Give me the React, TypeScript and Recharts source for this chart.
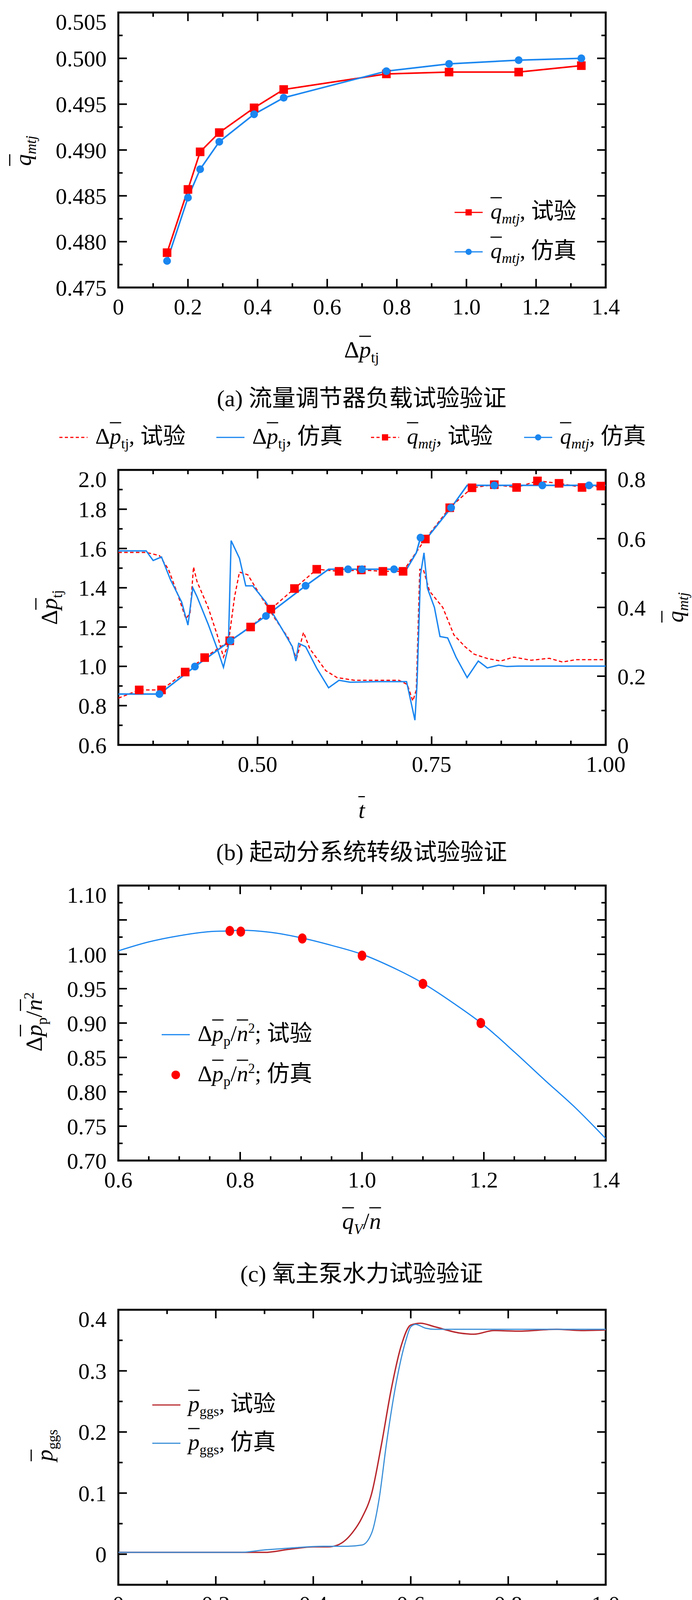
import React from 'react';
import { LineChart, Line, XAxis, YAxis, Scatter, ComposedChart, ReferenceArea, ReferenceLine } from 'recharts';

const FONT = '"Liberation Serif", "Noto Sans CJK SC", serif';
const RED = '#ff0000';
const BLUE = '#1a86f0';

// (a) flow regulator load test
const aX = [0.14, 0.2, 0.235, 0.29, 0.39, 0.475, 0.77, 0.95, 1.15, 1.33];
const aTest = [0.4788, 0.4857, 0.4898, 0.4919, 0.4946, 0.4966, 0.4983, 0.4985, 0.4985, 0.4992];
const aSim = [0.4779, 0.4848, 0.4879, 0.4909, 0.4939, 0.4957, 0.4986, 0.4994, 0.4998, 0.5];

// (b) start subsystem transition test
const bDpSimT = [0.3, 0.34, 0.35, 0.362, 0.375, 0.391, 0.4, 0.407, 0.413, 0.429, 0.442, 0.451, 0.458, 0.462, 0.474, 0.483, 0.493, 0.512, 0.531, 0.55, 0.555, 0.559, 0.569, 0.585, 0.602, 0.617, 0.633, 0.671, 0.714, 0.72, 0.726, 0.729, 0.734, 0.739, 0.744, 0.754, 0.762, 0.773, 0.785, 0.801, 0.817, 0.83, 0.846, 0.858, 0.874, 1.0];
const bDpSim = [1.588, 1.588, 1.539, 1.557, 1.44, 1.327, 1.21, 1.4, 1.355, 1.215, 1.09, 0.995, 1.1, 1.64, 1.55, 1.41, 1.41, 1.327, 1.215, 1.1, 1.027, 1.117, 1.1, 0.99, 0.891, 0.929, 0.919, 0.922, 0.922, 0.824, 0.726, 0.908, 1.466, 1.578, 1.397, 1.3, 1.152, 1.145, 1.047, 0.943, 1.027, 0.992, 1.006, 0.999, 1.001, 1.001];
const bDpTestT = [0.3, 0.34, 0.359, 0.372, 0.385, 0.397, 0.403, 0.408, 0.413, 0.429, 0.442, 0.451, 0.458, 0.467, 0.474, 0.486, 0.505, 0.525, 0.544, 0.556, 0.566, 0.575, 0.598, 0.614, 0.639, 0.703, 0.715, 0.723, 0.728, 0.733, 0.738, 0.747, 0.766, 0.782, 0.798, 0.811, 0.83, 0.849, 0.868, 0.893, 0.919, 0.938, 0.957, 1.0];
const bDpTest = [1.58, 1.58, 1.564, 1.494, 1.369, 1.243, 1.27, 1.506, 1.432, 1.3, 1.16, 1.047, 1.117, 1.355, 1.48, 1.466, 1.355, 1.243, 1.145, 1.04, 1.173, 1.09, 0.978, 0.943, 0.929, 0.929, 0.908, 0.824, 0.88, 1.494, 1.494, 1.383, 1.3, 1.16, 1.1, 1.062, 1.04, 1.027, 1.047, 1.031, 1.041, 1.022, 1.034, 1.034];
const bQSimT = [0.3, 0.359, 0.41, 0.461, 0.512, 0.569, 0.602, 0.63, 0.65, 0.696, 0.714, 0.728, 0.734, 0.739, 0.778, 0.801, 0.808, 0.84, 0.909, 0.976, 1.0];
const bQSim = [0.148, 0.148, 0.228, 0.303, 0.375, 0.463, 0.511, 0.511, 0.511, 0.511, 0.511, 0.559, 0.603, 0.591, 0.69, 0.755, 0.755, 0.755, 0.755, 0.755, 0.755];
const bQSimMark = [0, 1, 1, 1, 1, 1, 0, 1, 1, 1, 0, 0, 1, 0, 1, 0, 0, 1, 1, 1, 0];
const bQTestT = [0.3, 0.33, 0.362, 0.396, 0.424, 0.46, 0.49, 0.519, 0.553, 0.585, 0.617, 0.649, 0.68, 0.709, 0.741, 0.776, 0.808, 0.84, 0.872, 0.902, 0.933, 0.966, 0.993, 1.0];
const bQTest = [0.136, 0.16, 0.16, 0.212, 0.254, 0.303, 0.343, 0.395, 0.455, 0.511, 0.505, 0.509, 0.505, 0.505, 0.599, 0.69, 0.748, 0.757, 0.749, 0.768, 0.761, 0.749, 0.753, 0.753];

// (c) oxygen main pump hydraulic test
const cLineX = [0.6, 0.65, 0.7, 0.75, 0.78, 0.8, 0.85, 0.9, 0.95, 1.0, 1.05, 1.1, 1.15, 1.2, 1.25, 1.3, 1.35, 1.4];
const cLineY = [1.005, 1.018, 1.027, 1.033, 1.034, 1.035, 1.032, 1.024, 1.013, 1.0, 0.981, 0.958, 0.929, 0.897, 0.858, 0.817, 0.777, 0.732];
const cDotX = [0.783, 0.801, 0.902, 1.0, 1.1, 1.195];
const cDotY = [1.034, 1.033, 1.023, 0.998, 0.957, 0.9];

// (d) gas generator hot test
const dTestT = [0, 0.3, 0.35, 0.4, 0.43, 0.45, 0.48, 0.5, 0.52, 0.54, 0.56, 0.58, 0.6, 0.62, 0.65, 0.7, 0.73, 0.77, 0.82, 0.9, 0.95, 1.0];
const dTest = [0.003, 0.003, 0.008, 0.012, 0.012, 0.015, 0.035, 0.06, 0.1, 0.18, 0.27, 0.34, 0.375, 0.378, 0.372, 0.362, 0.36, 0.366, 0.365, 0.368, 0.366, 0.367];
const dSimT = [0, 0.25, 0.3, 0.35, 0.42, 0.47, 0.5, 0.52, 0.535, 0.55, 0.57, 0.59, 0.6, 0.61, 0.63, 0.65, 1.0];
const dSim = [0.003, 0.003, 0.007, 0.01, 0.013, 0.013, 0.015, 0.035, 0.09, 0.18, 0.28, 0.35, 0.372, 0.376, 0.37, 0.368, 0.368];

// (e) generator-turbopump coupled test
const eNSimT = [0, 0.27, 0.276, 0.303, 0.335, 0.358, 0.394, 0.431, 0.476, 0.531, 0.577, 0.6, 0.713, 0.804, 1.0];
const eNSim = [0, 0, 0.02, 0.19, 0.28, 0.275, 0.39, 0.496, 0.578, 0.66, 0.712, 0.726, 0.726, 0.852, 0.852];
const eNTestT = [0, 0.249, 0.276, 0.285, 0.301, 0.335, 0.353, 0.376, 0.403, 0.431, 0.485, 0.531, 0.576, 0.6, 0.704, 0.722, 0.795, 1.0];
const eNTest = [0, 0.005, 0.028, 0.094, 0.16, 0.167, 0.29, 0.32, 0.44, 0.49, 0.6, 0.66, 0.705, 0.718, 0.722, 0.759, 0.855, 0.857];
const ePTestT = [0.007, 0.039, 0.076, 0.112, 0.15, 0.188, 0.223, 0.262, 0.301, 0.337, 0.376, 0.413, 0.452, 0.488, 0.526, 0.565, 0.601, 0.638, 0.678, 0.713, 0.751, 0.789, 0.827, 0.865, 0.903, 0.939, 0.977, 1.0];
const ePTest = [0, 0, 0, 0, 0, 0, 0, 0.003, 0.036, 0.03, 0.092, 0.207, 0.28, 0.35, 0.407, 0.482, 0.515, 0.52, 0.522, 0.522, 0.61, 0.682, 0.719, 0.72, 0.72, 0.717, 0.715, 0.715];
const ePSimT = [0.007, 0.077, 0.126, 0.171, 0.209, 0.273, 0.287, 0.321, 0.362, 0.429, 0.499, 0.56, 0.6, 0.633, 0.709, 0.781, 0.813, 0.854, 0.93, 1.0];
const ePSim = [0, 0, 0, 0, 0, 0.003, 0.036, 0.06, 0.09, 0.25, 0.383, 0.49, 0.525, 0.528, 0.53, 0.683, 0.727, 0.727, 0.727, 0.727];
const ePSimMark = [1, 1, 1, 1, 1, 1, 1, 0, 1, 1, 1, 1, 0, 1, 1, 1, 0, 1, 1, 0];

const zip = (xs: number[], ys: number[], extra?: number[]) =>
  xs.map((x, i) => ({ x, y: ys[i], m: extra ? extra[i] : 1 }));

const W = 1772;
const LEFT = 303;
const RIGHT = 221;
const PH = 704;
const PW = W - LEFT - RIGHT;
const TICK = { fontSize: 58, fill: '#000', fontFamily: FONT };

type AxCfg = {
  xd: [number, number]; xt: number[]; xm: number[]; xf?: (v: number) => string;
  yd: [number, number]; yt: number[]; ym: number[]; yf?: (v: number) => string;
  rd?: [number, number]; rt?: number[]; rm?: number[]; rf?: (v: number) => string;
};

// axes carry the labels; inward tick marks and the frame are reference lines on the same scales
function axes(c: AxCfg) {
  const out = [
    <XAxis key="b" xAxisId="B" type="number" dataKey="x" domain={c.xd} ticks={c.xt} allowDataOverflow tickFormatter={c.xf} tick={TICK} tickLine={false} tickMargin={22} height={100} axisLine={false} />,
    <YAxis key="l" yAxisId="L" type="number" domain={c.yd} ticks={c.yt} allowDataOverflow tickFormatter={c.yf} tick={TICK} tickLine={false} tickMargin={24} width={LEFT} axisLine={false} />,
  ];
  if (c.rf) {
    out.push(<YAxis key="r" yAxisId="R" orientation="right" type="number" domain={c.rd} ticks={c.rt} allowDataOverflow tickFormatter={c.rf} tick={TICK} tickLine={false} tickMargin={24} width={RIGHT} axisLine={false} />);
  }
  const [x0, x1] = c.xd;
  const [y0, y1] = c.yd;
  const dx = (px: number) => (px / PW) * (x1 - x0);
  const dy = (px: number) => (px / PH) * (y1 - y0);
  const ln = { stroke: '#000', strokeWidth: 4, ifOverflow: 'visible' as const, xAxisId: 'B', yAxisId: 'L' };
  const xt = (v: number, len: number, k: string) => [
    <ReferenceLine key={k + 'b' + v} {...ln} segment={[{ x: v, y: y0 }, { x: v, y: y0 + dy(len) }]} />,
    <ReferenceLine key={k + 't' + v} {...ln} segment={[{ x: v, y: y1 }, { x: v, y: y1 - dy(len) }]} />,
  ];
  const yl = (v: number, len: number, k: string) => (
    <ReferenceLine key={k + 'l' + v} {...ln} segment={[{ x: x0, y: v }, { x: x0 + dx(len), y: v }]} />
  );
  const yr = (v: number, len: number, k: string) =>
    c.rf ? (
      <ReferenceLine key={k + 'r' + v} {...ln} yAxisId="R" segment={[{ x: x1, y: v }, { x: x1 - dx(len), y: v }]} />
    ) : (
      <ReferenceLine key={k + 'r' + v} {...ln} segment={[{ x: x1, y: v }, { x: x1 - dx(len), y: v }]} />
    );
  c.xt.forEach((v) => out.push(...xt(v, 22, 'M')));
  c.xm.forEach((v) => out.push(...xt(v, 11, 'm')));
  c.yt.forEach((v) => out.push(yl(v, 22, 'M')));
  c.ym.forEach((v) => out.push(yl(v, 11, 'm')));
  (c.rf ? c.rt! : c.yt).forEach((v) => out.push(yr(v, 22, 'M')));
  (c.rf ? c.rm! : c.ym).forEach((v) => out.push(yr(v, 11, 'm')));
  out.push(<ReferenceArea key="frame" xAxisId="B" yAxisId="L" x1={x0} x2={x1} y1={y0} y2={y1} fill="none" fillOpacity={0} stroke="#000" strokeWidth={5} ifOverflow="visible" />);
  return out;
}

const Bar = ({ c }: { c: string }) => <span style={{ textDecoration: 'overline', textDecorationThickness: 3, fontStyle: 'italic' }}>{c}</span>;
const Sub = ({ c, it }: { c: string; it?: boolean }) => (
  <span style={{ fontSize: '0.62em', verticalAlign: '-0.35em', fontStyle: it ? 'italic' : 'normal' }}>{c}</span>
);

function Txt({ x, y, rot, size = 60, children }: { x: number; y: number; rot?: boolean; size?: number; children: React.ReactNode }) {
  return (
    <div style={{ position: 'absolute', left: x, top: y, transform: `translate(-50%,-50%)${rot ? ' rotate(-90deg)' : ''}`, fontFamily: FONT, fontSize: size, whiteSpace: 'nowrap', color: '#000', lineHeight: 1 }}>
      {children}
    </div>
  );
}

function Key({ x, y, color, dash, mark, children }: { x: number; y: number; color: string; dash?: boolean; mark?: 'sq' | 'ci' | 'dot'; children: React.ReactNode }) {
  return (
    <div style={{ position: 'absolute', left: x, top: y, transform: 'translateY(-50%)', display: 'flex', alignItems: 'center', fontFamily: FONT, fontSize: 58, whiteSpace: 'nowrap', lineHeight: 1.2 }}>
      <svg width={76} height={30} style={{ marginRight: 18 }}>
        {mark !== 'dot' && <line x1={2} y1={15} x2={74} y2={15} stroke={color} strokeWidth={3} strokeDasharray={dash ? '8 6' : undefined} />}
        {mark === 'sq' && <rect x={30} y={7} width={16} height={16} fill={color} />}
        {(mark === 'ci' || mark === 'dot') && <circle cx={38} cy={15} r={mark === 'dot' ? 11 : 8} fill={color} />}
      </svg>
      <span>{children}</span>
    </div>
  );
}

const sq = (color: string, s = 18) => (p: any) =>
  p.payload?.m ? <rect key={p.index} x={p.cx - s / 2} y={p.cy - s / 2} width={s} height={s} fill={color} /> : <g key={p.index} />;
const ci = (color: string, r = 9) => (p: any) =>
  p.payload?.m ? <circle key={p.index} cx={p.cx} cy={p.cy} r={r} fill={color} /> : <g key={p.index} />;

function Panel({ top, children }: { top: number; children: React.ReactNode }) {
  return <div style={{ position: 'absolute', left: 0, top: top - 10 }}>{children}</div>;
}

export default function App() {
  const f1 = (v: number) => (v === 0 ? '0' : v.toFixed(1));
  const f2 = (v: number) => (v === 0 ? '0' : v.toFixed(2));
  const f3 = (v: number) => v.toFixed(3);
  const fy2 = (v: number) => v.toFixed(2);
  const CH = PH + 10 + 100;
  const m = (right: number) => ({ top: 10, right, bottom: 0, left: 0 });

  return (
    <div style={{ position: 'absolute', left: 0, top: 0, width: W, height: 5443, background: '#fff', fontFamily: FONT, overflow: 'hidden' }}>
      {/* (a) */}
      <Panel top={32}>
        <LineChart width={W} height={CH} margin={m(RIGHT)}>
          {axes({ xd: [0, 1.4], xt: [0, 0.2, 0.4, 0.6, 0.8, 1.0, 1.2, 1.4], xm: [0.1, 0.3, 0.5, 0.7, 0.9, 1.1, 1.3], xf: f1,
            yd: [0.475, 0.505], yt: [0.475, 0.48, 0.485, 0.49, 0.495, 0.5, 0.505], ym: [0.4775, 0.4825, 0.4875, 0.4925, 0.4975, 0.5025], yf: f3 })}
          <Line xAxisId="B" yAxisId="L" data={zip(aX, aTest)} dataKey="y" stroke={RED} strokeWidth={4} dot={sq(RED, 22)} isAnimationActive={false} />
          <Line xAxisId="B" yAxisId="L" data={zip(aX, aSim)} dataKey="y" stroke={BLUE} strokeWidth={4} dot={ci(BLUE, 10)} isAnimationActive={false} />
        </LineChart>
      </Panel>
      <Txt x={64} y={386} rot><Bar c="q" /><Sub c="mtj" it /></Txt>
      <Key x={1162} y={544} color={RED} mark="sq"><Bar c="q" /><Sub c="mtj" it />, 试验</Key>
      <Key x={1162} y={645} color={BLUE} mark="ci"><Bar c="q" /><Sub c="mtj" it />, 仿真</Key>
      <Txt x={926} y={900}>Δ<Bar c="p" /><Sub c="tj" /></Txt>
      <Txt x={926} y={1020}>(a) 流量调节器负载试验验证</Txt>

      {/* (b) */}
      <Key x={150} y={1120} color={RED} dash>Δ<Bar c="p" /><Sub c="tj" />, 试验</Key>
      <Key x={552} y={1120} color={BLUE}>Δ<Bar c="p" /><Sub c="tj" />, 仿真</Key>
      <Key x={948} y={1120} color={RED} dash mark="sq"><Bar c="q" /><Sub c="mtj" it />, 试验</Key>
      <Key x={1340} y={1120} color={BLUE} mark="ci"><Bar c="q" /><Sub c="mtj" it />, 仿真</Key>
      <Panel top={1203}>
        <LineChart width={W} height={CH} margin={m(0)}>
          {axes({ xd: [0.3, 1.0], xt: [0.5, 0.75, 1.0], xm: [0.35, 0.4, 0.45, 0.55, 0.6, 0.65, 0.7, 0.8, 0.85, 0.9, 0.95], xf: f2,
            yd: [0.6, 2.0], yt: [0.6, 0.8, 1.0, 1.2, 1.4, 1.6, 1.8, 2.0], ym: [0.7, 0.9, 1.1, 1.3, 1.5, 1.7, 1.9], yf: f1,
            rd: [0, 0.8], rt: [0, 0.2, 0.4, 0.6, 0.8], rm: [0.1, 0.3, 0.5, 0.7], rf: f1 })}
          <Line xAxisId="B" yAxisId="L" data={zip(bDpTestT, bDpTest)} dataKey="y" stroke={RED} strokeWidth={3} strokeDasharray="9 6" dot={false} isAnimationActive={false} />
          <Line xAxisId="B" yAxisId="L" data={zip(bDpSimT, bDpSim)} dataKey="y" stroke={BLUE} strokeWidth={3.5} dot={false} isAnimationActive={false} />
          <Line xAxisId="B" yAxisId="R" data={zip(bQTestT, bQTest, bQTest.map((_, i) => (i === 0 || i === bQTest.length - 1 ? 0 : 1)))} dataKey="y" stroke={RED} strokeWidth={3} strokeDasharray="9 6" dot={sq(RED, 22)} isAnimationActive={false} />
          <Line xAxisId="B" yAxisId="R" data={zip(bQSimT, bQSim, bQSimMark)} dataKey="y" stroke={BLUE} strokeWidth={4} dot={ci(BLUE, 10)} isAnimationActive={false} />
        </LineChart>
      </Panel>
      <Txt x={131} y={1555} rot>Δ<Bar c="p" /><Sub c="tj" /></Txt>
      <Txt x={1734} y={1555} rot><Bar c="q" /><Sub c="mtj" it /></Txt>
      <Txt x={926} y={2074}><Bar c="t" /></Txt>
      <Txt x={926} y={2182}>(b) 起动分系统转级试验验证</Txt>

      {/* (c) */}
      <Panel top={2267}>
        <ComposedChart width={W} height={CH} margin={m(RIGHT)}>
          {axes({ xd: [0.6, 1.4], xt: [0.6, 0.8, 1.0, 1.2, 1.4], xm: [0.65, 0.7, 0.75, 0.85, 0.9, 0.95, 1.05, 1.1, 1.15, 1.25, 1.3, 1.35], xf: (v) => v.toFixed(1),
            yd: [0.7, 1.1], yt: [0.7, 0.75, 0.8, 0.85, 0.9, 0.95, 1.0, 1.05, 1.1], ym: [0.725, 0.775, 0.825, 0.875, 0.925, 0.975, 1.025, 1.075], yf: fy2 })}
          <Line xAxisId="B" yAxisId="L" data={zip(cLineX, cLineY)} dataKey="y" type="monotone" stroke={BLUE} strokeWidth={3} dot={false} isAnimationActive={false} />
          <Scatter xAxisId="B" yAxisId="L" data={zip(cDotX, cDotY)} dataKey="y" fill={RED} shape={(p: any) => <ellipse cx={p.cx} cy={p.cy} rx={11} ry={13} fill={RED} />} isAnimationActive={false} />
        </ComposedChart>
      </Panel>
      <Txt x={91} y={2616} rot>Δ<Bar c="p" /><Sub c="p" />/<Bar c="n" /><sup style={{ fontSize: '0.6em' }}>2</sup></Txt>
      <Key x={412} y={2649} color={BLUE}>Δ<Bar c="p" /><Sub c="p" />/<Bar c="n" /><sup style={{ fontSize: '0.6em' }}>2</sup>; 试验</Key>
      <Key x={412} y={2752} color={RED} mark="dot">Δ<Bar c="p" /><Sub c="p" />/<Bar c="n" /><sup style={{ fontSize: '0.6em' }}>2</sup>; 仿真</Key>
      <Txt x={926} y={3131}><Bar c="q" /><Sub c="V" it />/<Bar c="n" /></Txt>
      <Txt x={926} y={3261}>(c) 氧主泵水力试验验证</Txt>

      {/* (d) */}
      <Panel top={3353}>
        <LineChart width={W} height={CH} margin={m(RIGHT)}>
          {axes({ xd: [0, 1], xt: [0, 0.2, 0.4, 0.6, 0.8, 1.0], xm: [0.1, 0.3, 0.5, 0.7, 0.9], xf: f1,
            yd: [-0.05, 0.4], yt: [0, 0.1, 0.2, 0.3, 0.4], ym: [-0.05, 0.05, 0.15, 0.25, 0.35], yf: f1 })}
          <Line xAxisId="B" yAxisId="L" data={zip(dTestT, dTest)} dataKey="y" type="monotone" stroke="#b8282e" strokeWidth={3.5} dot={false} isAnimationActive={false} />
          <Line xAxisId="B" yAxisId="L" data={zip(dSimT, dSim)} dataKey="y" type="monotone" stroke="#3a8fd8" strokeWidth={3} dot={false} isAnimationActive={false} />
        </LineChart>
      </Panel>
      <Txt x={119} y={3700} rot><Bar c="p" /><Sub c="ggs" /></Txt>
      <Key x={388} y={3597} color="#b8282e"><Bar c="p" /><Sub c="ggs" />, 试验</Key>
      <Key x={388} y={3695} color="#3a8fd8"><Bar c="p" /><Sub c="ggs" />, 仿真</Key>
      <Txt x={926} y={4224}><Bar c="t" /></Txt>
      <Txt x={926} y={4334}>(d) 燃气发生器缩尺件热试验证</Txt>

      {/* (e) */}
      <Panel top={4427}>
        <LineChart width={W} height={CH} margin={m(0)}>
          {axes({ xd: [0, 1], xt: [0, 0.25, 0.5, 0.75, 1.0], xm: [0.125, 0.375, 0.625, 0.875], xf: f2,
            yd: [-0.1, 1.0], yt: [0, 0.2, 0.4, 0.6, 0.8, 1.0], ym: [-0.1, 0.1, 0.3, 0.5, 0.7, 0.9], yf: f1,
            rd: [-0.1, 1.0], rt: [0, 0.2, 0.4, 0.6, 0.8, 1.0], rm: [-0.1, 0.1, 0.3, 0.5, 0.7, 0.9], rf: f1 })}
          <Line xAxisId="B" yAxisId="L" data={zip(eNTestT, eNTest)} dataKey="y" stroke={RED} strokeWidth={3} strokeDasharray="9 6" dot={false} isAnimationActive={false} />
          <Line xAxisId="B" yAxisId="L" data={zip(eNSimT, eNSim)} dataKey="y" type="monotone" stroke={BLUE} strokeWidth={3.5} dot={false} isAnimationActive={false} />
          <Line xAxisId="B" yAxisId="R" data={zip(ePTestT, ePTest, ePTest.map((_, i) => (i === ePTest.length - 1 ? 0 : 1)))} dataKey="y" stroke={RED} strokeWidth={3} strokeDasharray="9 6" dot={sq(RED, 18)} isAnimationActive={false} />
          <Line xAxisId="B" yAxisId="R" data={zip(ePSimT, ePSim, ePSimMark)} dataKey="y" stroke={BLUE} strokeWidth={3.5} dot={ci(BLUE, 9)} isAnimationActive={false} />
        </LineChart>
      </Panel>
      <Key x={352} y={4492} color={RED} dash><Bar c="n" /><Sub c="t" />, 试验</Key>
      <Key x={352} y={4586} color={BLUE}><Bar c="n" /><Sub c="t" />, 仿真</Key>
      <Key x={1114} y={4911} color={RED} dash mark="sq"><Bar c="p" /><Sub c="it" />, 试验</Key>
      <Key x={1114} y={5007} color={BLUE} mark="ci"><Bar c="p" /><Sub c="it" />, 仿真</Key>
      <Txt x={123} y={4775} rot><Bar c="n" /><Sub c="t" /></Txt>
      <Txt x={1740} y={4775} rot><Bar c="p" /><Sub c="it" /></Txt>
      <Txt x={926} y={5293}><Bar c="t" /></Txt>
      <Txt x={926} y={5398}>(e) 发生器-涡轮泵联试验证</Txt>
    </div>
  );
}
